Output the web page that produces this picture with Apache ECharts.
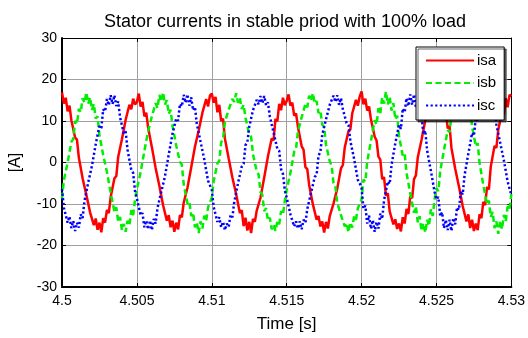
<!DOCTYPE html>
<html>
<head>
<meta charset="utf-8">
<script src="https://cdn.jsdelivr.net/npm/echarts@6/dist/echarts.min.js"></script>
<style>
html,body{margin:0;padding:0;background:#fff;}
#chart{width:528px;height:338px;}
</style>
</head>
<body>
<div id="chart"></div>
<script>
// Sampling: start time and step of the recorded samples [s]
const tStart = 4.5;
const tStep = 0.000125;

const xTicks = ['4.5','4.505','4.51','4.515','4.52','4.525','4.53'];
const yTicks = ['-30','-20','-10','0','10','20','30'];
const seriesNames = ['isa','isb','isc'];

const isa = [
16.9, 14.2, 15.6, 12.3, 13.7, 10.2, 10.4, 6.0, 5.5, 1.2, 0.9, -3.8, -3.7, -7.8, -7.6, -12.0, -11.7, -15.1, -13.5, -16.2,
-14.5, -16.8, -13.4, -14.5, -11.4, -12.2, -8.3, -8.4, -3.8, -3.3, 1.3, 1.3, 5.6, 5.5, 10.3, 10.1, 13.9, 12.8, 15.4, 14.0,
14.6, 16.6, 13.5, 14.6, 11.1, 12.0, 8.4, 8.5, 3.7, 3.3, -1.3, -1.4, -5.6, -5.6, -10.3, -10.3, -14.0, -12.7, -15.6, -14.0,
-16.7, -14.5, -16.1, -12.7, -13.2, -9.7, -10.1, -6.1, -6.3, -1.2, -0.8, 3.8, 3.7, 7.7, 7.8, 12.0, 11.6, 15.3, 13.5, 16.1,
16.6, 14.4, 15.8, 12.1, 13.9, 10.0, 10.6, 5.8, 5.7, 1.0, 1.1, -3.6, -3.9, -7.6, -7.8, -12.2, -11.5, -15.3, -13.3, -16.4,
-14.3, -17.0, -13.6, -14.3, -11.6, -12.0, -8.5, -8.2, -3.6, -3.5, 1.5, 1.1, 5.8, 5.3, 10.5, 9.9, 14.1, 12.6, 15.6, 13.8,
14.8, 16.4, 13.7, 14.4, 11.3, 11.8, 8.6, 8.3, 3.9, 3.1, -1.1, -1.6, -5.4, -5.8, -10.1, -10.5, -13.8, -12.9, -15.4, -14.2,
-16.9, -14.3, -15.9, -12.9, -13.0, -9.9, -9.9, -6.3, -6.1, -1.4, -0.6, 3.6, 3.9, 7.5, 8.0, 11.8, 11.8, 15.1, 13.7, 15.9,
17.1, 14.0, 15.4, 12.5, 13.5, 10.4, 10.2, 6.2, 5.3, 1.4, 0.7, -4.0, -3.5, -8.0, -7.4, -11.8, -11.9, -14.9, -13.7, -16.0,
-14.7, -16.6, -13.2, -14.7, -11.2, -12.4, -8.1, -8.6, -4.0, -3.1, 1.2, 1.5, 5.4, 5.7, 10.1, 10.3, 13.7, 13.0, 15.2, 14.2,
14.4, 16.8, 13.3, 14.8, 10.9, 12.2, 8.2, 8.7, 3.5, 3.5, -1.5, -1.2, -5.8, -5.4, -10.5, -10.1, -14.2, -12.5, -15.8, -13.8,
-16.5, -14.7, -16.3, -12.5, -13.4, -9.5, -10.3, -5.9, -6.5, -1.0, -1.0, 4.0, 3.5, 7.9, 7.6, 12.2, 11.4, 15.5, 13.3, 16.3,
16.0
];
const isb = [
-8.7, -4.3, -4.4, 0.0, 0.2, 5.0, 5.6, 10.0, 9.3, 12.9, 12.1, 15.5, 14.4, 16.9, 14.2, 15.7, 12.7, 14.1, 10.6, 11.1,
6.6, 6.4, 1.8, 1.9, -2.3, -2.7, -7.3, -7.6, -11.9, -10.8, -14.2, -13.1, -16.3, -14.8, -16.7, -14.0, -15.1, -11.5, -12.7, -9.0,
-6.4, -6.7, -2.3, -2.3, 2.8, 3.2, 7.6, 7.5, 11.1, 10.8, 14.3, 13.1, 16.3, 14.7, 16.9, 14.0, 15.0, 11.7, 12.7, 8.9,
8.8, 4.1, 4.5, 0.1, -0.5, -5.2, -5.5, -9.9, -9.4, -12.9, -12.1, -15.6, -14.4, -17.0, -14.2, -15.9, -12.8, -14.0, -10.8, -11.1,
-8.5, -4.5, -4.2, -0.2, 0.4, 4.8, 5.8, 9.8, 9.5, 12.7, 12.3, 15.3, 14.6, 16.7, 14.4, 15.5, 12.9, 13.9, 10.8, 10.9,
6.8, 6.2, 2.0, 1.7, -2.1, -2.9, -7.1, -7.8, -11.7, -11.0, -14.0, -13.3, -16.1, -15.0, -16.5, -14.2, -14.9, -11.7, -12.5, -9.2,
-6.6, -6.5, -2.5, -2.1, 2.6, 3.4, 7.4, 7.7, 10.9, 11.0, 14.1, 13.3, 16.1, 14.9, 16.7, 14.2, 14.8, 11.9, 12.5, 9.1,
8.6, 4.3, 4.3, 0.3, -0.7, -5.0, -5.7, -9.7, -9.6, -12.7, -12.3, -15.4, -14.6, -16.8, -14.4, -15.7, -13.0, -13.8, -11.0, -10.9,
-8.9, -4.1, -4.6, 0.2, 0.0, 5.2, 5.4, 10.2, 9.1, 13.1, 11.9, 15.7, 14.2, 17.1, 14.0, 15.9, 12.5, 14.3, 10.4, 11.3,
6.4, 6.6, 1.6, 2.1, -2.5, -2.5, -7.5, -7.4, -12.1, -10.6, -14.4, -12.9, -16.5, -14.6, -16.9, -13.8, -15.3, -11.3, -12.9, -8.8,
-6.2, -6.9, -2.1, -2.5, 3.0, 3.0, 7.8, 7.3, 11.3, 10.6, 14.5, 12.9, 16.5, 14.5, 17.1, 13.8, 15.2, 11.5, 12.9, 8.7,
9.0, 3.9, 4.7, -0.1, -0.3, -5.4, -5.3, -10.1, -9.2, -13.1, -11.9, -15.8, -14.2, -17.2, -14.0, -16.1, -12.6, -14.2, -10.6, -11.3,
-7.6
];
const isc = [
-6.4, -10.9, -10.6, -14.5, -13.0, -15.8, -14.1, -16.5, -14.5, -15.7, -12.5, -13.4, -9.3, -9.3, -4.8, -5.0, -0.8, -0.5, 4.4, 4.7,
8.8, 8.3, 12.8, 12.3, 15.3, 13.8, 16.2, 14.1, 16.2, 13.6, 14.7, 10.9, 11.2, 7.0, 7.5, 3.1, 3.0, -1.8, -2.5, -6.9,
-8.7, -8.5, -12.7, -12.2, -15.6, -14.0, -16.1, -14.0, -16.3, -13.6, -14.7, -11.0, -11.2, -7.1, -7.5, -3.3, -3.1, 1.9, 2.3, 6.9,
6.6, 10.6, 10.1, 14.1, 13.5, 16.3, 14.4, 16.4, 13.7, 15.7, 12.6, 13.4, 9.3, 9.2, 5.0, 5.0, 0.7, 0.7, -4.4, -4.8,
-6.6, -10.7, -10.8, -14.3, -13.2, -15.6, -14.3, -16.3, -14.7, -15.5, -12.7, -13.2, -9.5, -9.1, -5.0, -4.8, -1.0, -0.3, 4.2, 4.9,
8.6, 8.5, 12.6, 12.5, 15.1, 14.0, 16.0, 14.3, 16.0, 13.8, 14.5, 11.1, 11.0, 7.2, 7.3, 3.3, 2.8, -1.6, -2.7, -6.7,
-8.5, -8.7, -12.5, -12.4, -15.4, -14.2, -15.9, -14.2, -16.1, -13.8, -14.5, -11.2, -11.0, -7.3, -7.3, -3.5, -2.9, 1.7, 2.5, 6.7,
6.8, 10.4, 10.3, 13.9, 13.7, 16.1, 14.6, 16.2, 13.9, 15.5, 12.8, 13.2, 9.5, 9.0, 5.2, 4.8, 0.9, 0.5, -4.2, -5.0,
-6.2, -11.1, -10.4, -14.7, -12.8, -16.0, -13.9, -16.7, -14.3, -15.9, -12.3, -13.6, -9.1, -9.5, -4.6, -5.2, -0.6, -0.7, 4.6, 4.5,
9.0, 8.1, 13.0, 12.1, 15.5, 13.6, 16.4, 13.9, 16.4, 13.4, 14.9, 10.7, 11.4, 6.8, 7.7, 2.9, 3.2, -2.0, -2.3, -7.1,
-8.9, -8.3, -12.9, -12.0, -15.8, -13.8, -16.3, -13.8, -16.5, -13.4, -14.9, -10.8, -11.4, -6.9, -7.7, -3.1, -3.3, 2.1, 2.1, 7.1,
6.4, 10.8, 9.9, 14.3, 13.3, 16.5, 14.2, 16.6, 13.5, 15.9, 12.4, 13.6, 9.1, 9.4, 4.8, 5.2, 0.5, 0.9, -4.6, -4.6,
-7.9
];

const times = isa.map((_, i) => tStart + i * tStep);
const pairs = arr => arr.map((v, i) => [times[i], v]);

const FONT = 'Liberation Sans, Arial, sans-serif';
const xMin = +xTicks[0], xMax = +xTicks[xTicks.length - 1];
const yMin = +yTicks[0], yMax = +yTicks[yTicks.length - 1];
const fmtX = v => (+v).toFixed(3).replace(/0+$/, '').replace(/\.$/, '');

const chart = echarts.init(document.getElementById('chart'), null, {renderer: 'canvas'});
chart.setOption({
  animation: false,
  backgroundColor: '#fff',
  title: {
    text: 'Stator currents in stable priod with 100% load',
    left: 280, top: 8, textAlign: 'center',
    textStyle: {fontFamily: FONT, fontSize: 18, fontWeight: 'normal', color: '#000'}
  },
  grid: {left: 61, right: 16, top: 38, bottom: 45, containLabel: false},
  legend: {
    orient: 'vertical',
    left: 416, top: 47,
    padding: [6, 8, 7, 9],
    itemWidth: 48, itemHeight: 14, itemGap: 7.5,
    backgroundColor: '#fff',
    borderColor: '#000', borderWidth: 1, borderRadius: 0,
    shadowColor: 'rgba(0,0,0,0.6)', shadowOffsetX: 2, shadowOffsetY: 2, shadowBlur: 0,
    itemStyle: {color: 'rgba(0,0,0,0)', borderWidth: 0, opacity: 0},
    textStyle: {fontFamily: FONT, fontSize: 15, color: '#000', padding: [0,0,0,-2]},
    data: seriesNames
  },
  xAxis: [{
    type: 'value', min: xMin, max: xMax, interval: 0.005,
    axisLine: {onZero: false, lineStyle: {color: '#000', width: 2}},
    axisTick: {inside: true, length: 4, lineStyle: {color: '#000'}},
    axisLabel: {fontFamily: FONT, fontSize: 14, color: '#000', margin: 7, formatter: fmtX},
    splitLine: {show: true, lineStyle: {color: '#a0a0a0', width: 1}},
    name: 'Time [s]', nameLocation: 'middle', nameGap: 29,
    nameTextStyle: {fontFamily: FONT, fontSize: 17, color: '#000'}
  }, {
    type: 'value', min: xMin, max: xMax, interval: 0.005, position: 'top',
    axisLine: {show: true, onZero: false, lineStyle: {color: '#000', width: 1}},
    axisTick: {show: true, inside: true, length: 4, lineStyle: {color: '#000'}},
    axisLabel: {show: false}, splitLine: {show: false}
  }],
  yAxis: [{
    type: 'value', min: yMin, max: yMax, interval: 10,
    axisLine: {show: true, onZero: false, lineStyle: {color: '#000', width: 2}},
    axisTick: {show: true, inside: true, length: 4, lineStyle: {color: '#000'}},
    axisLabel: {fontFamily: FONT, fontSize: 14, color: '#000', margin: 5},
    splitLine: {show: true, lineStyle: {color: '#a0a0a0', width: 1}},
    name: '[A]', nameLocation: 'middle', nameGap: 38, nameRotate: 90,
    nameTextStyle: {fontFamily: FONT, fontSize: 16, color: '#000'}
  }, {
    type: 'value', min: yMin, max: yMax, interval: 10, position: 'right',
    axisLine: {show: true, onZero: false, lineStyle: {color: '#000', width: 1}},
    axisTick: {show: true, inside: true, length: 4, lineStyle: {color: '#000'}},
    axisLabel: {show: false}, splitLine: {show: false}
  }],
  series: [
    {name: 'isa', type: 'line', data: pairs(isa), showSymbol: false, symbol: 'none',
     color: '#ff0000', lineStyle: {color: '#ff0000', width: 2.5, type: 'solid'}},
    {name: 'isb', type: 'line', data: pairs(isb), showSymbol: false, symbol: 'none',
     color: '#00ee00', lineStyle: {color: '#00ee00', width: 2.5, type: [6, 3.5]}},
    {name: 'isc', type: 'line', data: pairs(isc), showSymbol: false, symbol: 'none',
     color: '#0000ff', lineStyle: {color: '#0000ff', width: 2.5, type: [2.2, 2.4]}}
  ]
});
</script>
</body>
</html>
